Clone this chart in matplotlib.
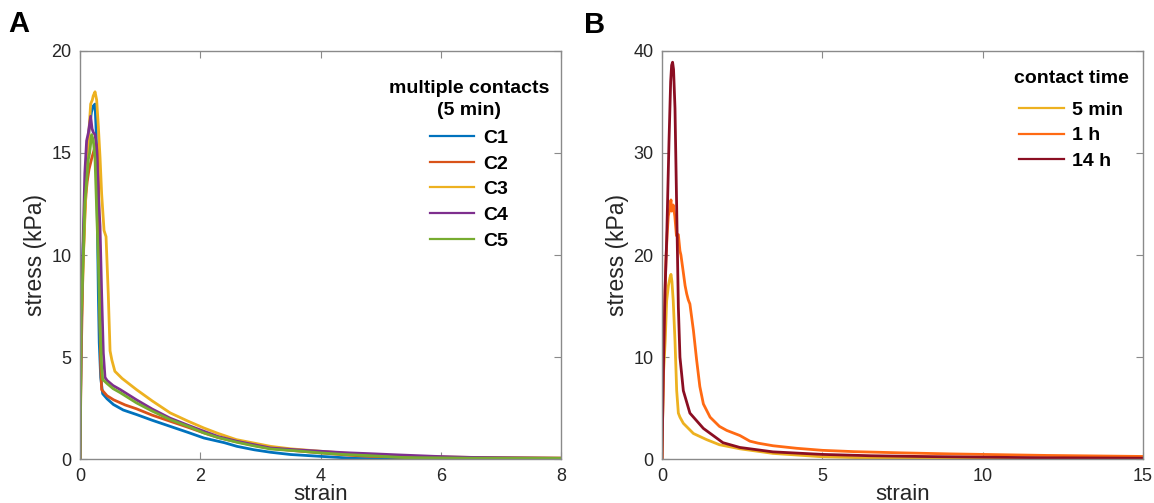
import matplotlib
matplotlib.use('Agg')
import matplotlib.pyplot as plt

# ---------------- Panel A: multiple contacts (5 min) ----------------
c1_strain = [0, 0.02, 0.05, 0.1, 0.15, 0.19, 0.22, 0.25, 0.27, 0.29, 0.305, 0.32, 0.344, 0.377, 0.45, 0.556,
             0.72, 0.94, 1.2, 1.5, 1.8, 2.06, 2.4, 2.61, 2.9, 3.17, 3.5, 4.0, 4.4, 4.56, 5.0, 6.0, 7.0, 8.0]
c1_stress = [0, 6.0, 10.2, 14.0, 16.1, 17.0, 17.3, 17.4, 16.0, 11.4, 8.1, 5.7, 4.0, 3.2, 2.95, 2.67,
             2.4, 2.18, 1.9, 1.6, 1.3, 1.03, 0.8, 0.62, 0.45, 0.33, 0.22, 0.13, 0.06, 0.03, 0.01, 0, 0, 0]

c2_strain = [0, 0.02, 0.05, 0.08, 0.1, 0.12, 0.15, 0.2, 0.25, 0.28, 0.3, 0.31, 0.32, 0.33, 0.345, 0.36,
             0.45, 0.56, 0.75, 0.94, 1.2, 1.5, 1.8, 2.06, 2.3, 2.61, 2.9, 3.17, 3.6, 4.0, 4.5, 4.83, 5.5, 6.5, 8.0]
c2_stress = [0, 5.0, 9.5, 12.0, 13.0, 13.6, 14.2, 14.8, 15.3, 15.4, 15.0, 13.0, 10.0, 7.0, 4.5, 3.4,
             3.1, 2.9, 2.65, 2.46, 2.15, 1.85, 1.55, 1.28, 1.05, 0.84, 0.66, 0.52, 0.4, 0.3, 0.18, 0.13, 0.08, 0.05, 0.03]

c3_strain = [0, 0.022, 0.055, 0.11, 0.139, 0.177, 0.205, 0.22, 0.25, 0.277, 0.305, 0.333, 0.36, 0.4, 0.433,
             0.47, 0.5, 0.53, 0.58, 0.7, 0.94, 1.2, 1.5, 1.8, 2.06, 2.3, 2.6, 3.17, 3.5, 4.0, 4.4, 4.83,
             5.3, 5.9, 7.0, 8.0]
c3_stress = [0, 6.5, 9.8, 14.0, 15.6, 17.4, 17.6, 17.8, 18.0, 17.6, 16.3, 14.8, 13.0, 11.2, 10.9,
             8.1, 5.3, 4.85, 4.3, 3.95, 3.4, 2.85, 2.26, 1.85, 1.52, 1.25, 0.95, 0.62, 0.5, 0.38, 0.29, 0.21,
             0.15, 0.1, 0.06, 0.05]

c4_strain = [0, 0.02, 0.05, 0.08, 0.11, 0.14, 0.177, 0.2, 0.222, 0.25, 0.277, 0.305, 0.333, 0.36, 0.388,
             0.416, 0.45, 0.55, 0.67, 0.94, 1.2, 1.5, 1.8, 2.06, 2.3, 2.61, 2.9, 3.17, 3.6, 4.0, 4.4, 4.83,
             5.3, 5.9, 6.5, 7.2, 8.0]
c4_stress = [0, 6.5, 10.5, 14.0, 15.6, 16.0, 16.8, 16.2, 16.0, 15.9, 15.3, 13.0, 11.4, 8.1, 5.2,
             4.0, 3.85, 3.6, 3.4, 2.9, 2.45, 2.0, 1.65, 1.36, 1.1, 0.87, 0.7, 0.54, 0.45, 0.38, 0.31, 0.26,
             0.2, 0.13, 0.08, 0.06, 0.04]

c5_strain = [0, 0.02, 0.055, 0.08, 0.139, 0.16, 0.194, 0.222, 0.25, 0.277, 0.305, 0.333, 0.36, 0.377,
             0.45, 0.55, 0.67, 0.94, 1.2, 1.5, 1.8, 2.06, 2.3, 2.61, 2.9, 3.17, 3.6, 4.0, 4.4, 4.83, 5.4,
             6.5, 8.0]
c5_stress = [0, 7.0, 10.0, 12.5, 14.7, 15.0, 15.9, 15.6, 14.7, 12.2, 9.75, 6.5, 4.5, 3.9,
             3.7, 3.45, 3.25, 2.75, 2.35, 1.93, 1.6, 1.28, 1.05, 0.82, 0.64, 0.49, 0.4, 0.3, 0.22, 0.16, 0.07,
             0.04, 0.03]

labels_a = ['C1', 'C2', 'C3', 'C4', 'C5']
colors_a = ['#0072BD', '#D95319', '#EDB120', '#7E2F8E', '#77AC30']

# ---------------- Panel B: contact time ----------------
t5min_strain = [0, 0.04, 0.1, 0.145, 0.2, 0.25, 0.28, 0.31, 0.35, 0.405, 0.458, 0.51, 0.56, 0.665, 0.98,
                1.39, 1.79, 2.43, 3.46, 5.0, 6.5, 8.0, 10.0, 12.0, 15.0]
t5min_stress = [0, 8.0, 11.6, 15.5, 17.0, 17.8, 18.1, 17.4, 15.5, 11.6, 6.7, 4.5, 4.1, 3.5, 2.5,
                1.9, 1.4, 1.0, 0.55, 0.22, 0.1, 0.06, 0.04, 0.03, 0.03]

t1h_strain = [0, 0.04, 0.08, 0.125, 0.16, 0.197, 0.25, 0.28, 0.3, 0.32, 0.35, 0.4, 0.45, 0.51, 0.56, 0.59,
              0.66, 0.72, 0.77, 0.82, 0.87, 0.98, 1.08, 1.18, 1.29, 1.5, 1.79, 2.02, 2.43, 2.74, 3.0,
              3.46, 4.2, 5.0, 6.0, 7.5, 9.0, 10.0, 12.0, 13.5, 15.0]
t1h_stress = [0, 8.3, 14.5, 19.6, 22.0, 23.8, 24.8, 25.4, 24.3, 24.6, 24.9, 23.8, 21.9, 22.0, 20.4, 20.0,
              18.4, 17.0, 16.2, 15.6, 15.2, 12.6, 9.7, 7.1, 5.4, 4.1, 3.2, 2.8, 2.3, 1.75, 1.55,
              1.3, 1.05, 0.85, 0.72, 0.6, 0.5, 0.45, 0.35, 0.3, 0.25]

t14h_strain = [0, 0.04, 0.093, 0.145, 0.218, 0.27, 0.3, 0.33, 0.36, 0.405, 0.458, 0.51, 0.56, 0.665, 0.87,
               1.29, 1.9, 2.43, 3.46, 5.0, 6.5, 8.0, 10.0, 12.0, 15.0]
t14h_stress = [0, 8.3, 16.4, 21.4, 31.1, 37.0, 38.6, 38.9, 38.2, 34.4, 24.6, 14.9, 9.98, 6.7, 4.5,
               3.0, 1.6, 1.13, 0.7, 0.45, 0.32, 0.25, 0.18, 0.12, 0.08]

labels_b = ['5 min', '1 h', '14 h']
colors_b = ['#EDB120', '#FF6A13', '#8B0E22']

# ---------------- Figure ----------------
plt.rcParams['font.family'] = ['Liberation Sans', 'DejaVu Sans']
W, H = 1154, 503
fig = plt.figure(figsize=(W / 100, H / 100), dpi=100)

spine_col = '#8a8a8a'
text_col = '#262626'
AX_BOTTOM = 44
AX_H = 408
AX_BOTTOM_PX = H - AX_BOTTOM  # pixel row of the x axis, from the top


def style(ax, xlim, ylim, xticks, yticks):
    ax.set_xlim(*xlim)
    ax.set_ylim(*ylim)
    ax.set_xticks(xticks)
    ax.set_yticks(yticks)
    for s in ax.spines.values():
        s.set_color(spine_col)
        s.set_linewidth(1.0)
    ax.tick_params(direction='in', length=5, width=0.8, color=spine_col, top=True, right=True,
                   labelsize=13, labelcolor=text_col, pad=6)
    ax.tick_params(axis='x', pad=6.5)
    ax.set_xlabel('strain', fontsize=16, color=text_col)
    ax.xaxis.label.set_va('baseline')
    ax.xaxis.set_label_coords(0.5, -(500 - AX_BOTTOM_PX) / AX_H)
    ax.set_ylabel('stress (kPa)', fontsize=16.5, color=text_col, labelpad=3)


def style_legend(leg, title_gap):
    t = leg.get_title()
    t.set_fontweight('bold')
    t.set_fontsize(14)
    t.set_multialignment('center')
    t.set_linespacing(1.45)
    for line in leg.get_lines():
        line.set_linewidth(1.6)
    leg._legend_box.sep = title_gap


axA = fig.add_axes([80 / W, AX_BOTTOM / H, 481 / W, AX_H / H])
series_a = [(c1_strain, c1_stress), (c2_strain, c2_stress), (c3_strain, c3_stress),
            (c4_strain, c4_stress), (c5_strain, c5_stress)]
for (xs, ys), lab, col in zip(series_a, labels_a, colors_a):
    axA.plot(xs, ys, color=col, lw=2.0, label=lab, solid_joinstyle='round')
style(axA, (0, 8), (0, 20), [0, 2, 4, 6, 8], [0, 5, 10, 15, 20])
legA = axA.legend(loc='upper right', bbox_to_anchor=(0.975, 0.93), frameon=False,
                  title='multiple contacts\n(5 min)', prop={'weight': 'bold', 'size': 14},
                  handlelength=2.3, handletextpad=0.45, labelspacing=0.42, borderpad=0, borderaxespad=0)
style_legend(legA, 7)

axB = fig.add_axes([662 / W, AX_BOTTOM / H, 481 / W, AX_H / H])
series_b = [(t5min_strain, t5min_stress), (t1h_strain, t1h_stress), (t14h_strain, t14h_stress)]
for (xs, ys), lab, col in zip(series_b, labels_b, colors_b):
    axB.plot(xs, ys, color=col, lw=2.0, label=lab, solid_joinstyle='round')
style(axB, (0, 15), (0, 40), [0, 5, 10, 15], [0, 10, 20, 30, 40])
legB = axB.legend(loc='upper right', bbox_to_anchor=(0.97, 0.953), frameon=False,
                  title='contact time', prop={'weight': 'bold', 'size': 14},
                  handlelength=2.3, handletextpad=0.45, labelspacing=0.42, borderpad=0, borderaxespad=0)
style_legend(legB, 10)

fig.text(19 / W, 1 - 24 / H, 'A', fontsize=21, fontweight='bold', ha='center', va='center')
fig.text(595 / W, 1 - 25 / H, 'B', fontsize=21, fontweight='bold', ha='center', va='center')

fig.savefig('out.png', dpi=100)
